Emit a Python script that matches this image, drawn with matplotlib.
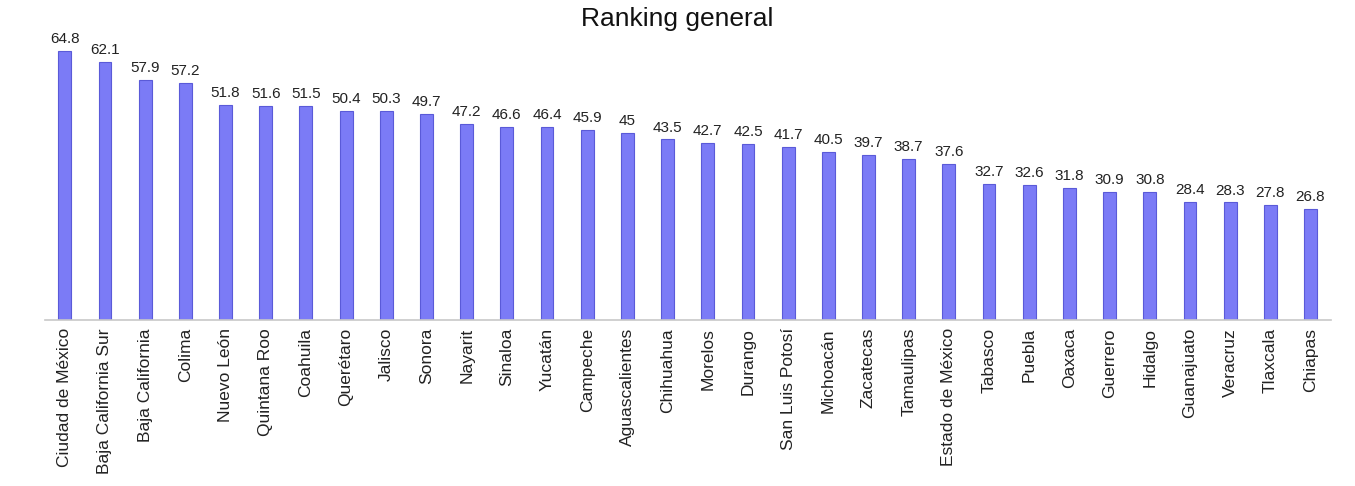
import matplotlib.pyplot as plt

plt.rcParams['font.family'] = ['Liberation Sans', 'DejaVu Sans']

estados = ['Ciudad de México', 'Baja California Sur', 'Baja California', 'Colima',
           'Nuevo León', 'Quintana Roo', 'Coahuila', 'Querétaro', 'Jalisco', 'Sonora',
           'Nayarit', 'Sinaloa', 'Yucatán', 'Campeche', 'Aguascalientes', 'Chihuahua',
           'Morelos', 'Durango', 'San Luis Potosí', 'Michoacán', 'Zacatecas',
           'Tamaulipas', 'Estado de México', 'Tabasco', 'Puebla', 'Oaxaca', 'Guerrero',
           'Hidalgo', 'Guanajuato', 'Veracruz', 'Tlaxcala', 'Chiapas']
puntaje = [64.8, 62.1, 57.9, 57.2, 51.8, 51.6, 51.5, 50.4, 50.3, 49.7, 47.2, 46.6,
           46.4, 45.9, 45, 43.5, 42.7, 42.5, 41.7, 40.5, 39.7, 38.7, 37.6, 32.7, 32.6,
           31.8, 30.9, 30.8, 28.4, 28.3, 27.8, 26.8]
etiquetas = ['64.8', '62.1', '57.9', '57.2', '51.8', '51.6', '51.5', '50.4', '50.3',
             '49.7', '47.2', '46.6', '46.4', '45.9', '45', '43.5', '42.7', '42.5',
             '41.7', '40.5', '39.7', '38.7', '37.6', '32.7', '32.6', '31.8', '30.9',
             '30.8', '28.4', '28.3', '27.8', '26.8']

fig = plt.figure(figsize=(13.55, 4.86), dpi=100)
ax = fig.add_axes([0.033, 0.342, 0.949, 0.597])

x = range(len(estados))
bars = ax.bar(x, puntaje, width=0.32, color='#7b7bf6', edgecolor='#5a5ad8', linewidth=0.8)
for b, t in zip(bars, etiquetas):
    ax.text(b.get_x() + b.get_width() / 2, b.get_height() + 1.2, t,
            ha='center', va='bottom', fontsize=11, color='#222222')

ax.set_xlim(-0.5, len(estados) - 0.5)
ax.set_ylim(0, 70)
ax.set_xticks(list(x))
ax.set_xticklabels(estados, rotation=90, fontsize=12.5, color='#222222')
ax.tick_params(axis='x', length=0, pad=6)
ax.set_yticks([])
for s in ['top', 'right', 'left']:
    ax.spines[s].set_visible(False)
ax.spines['bottom'].set_color('#c8c8c8')
ax.spines['bottom'].set_linewidth(1.2)

fig.suptitle('Ranking general', fontsize=19, y=0.985, color='#111111')

fig.savefig('out.png', dpi=100)
